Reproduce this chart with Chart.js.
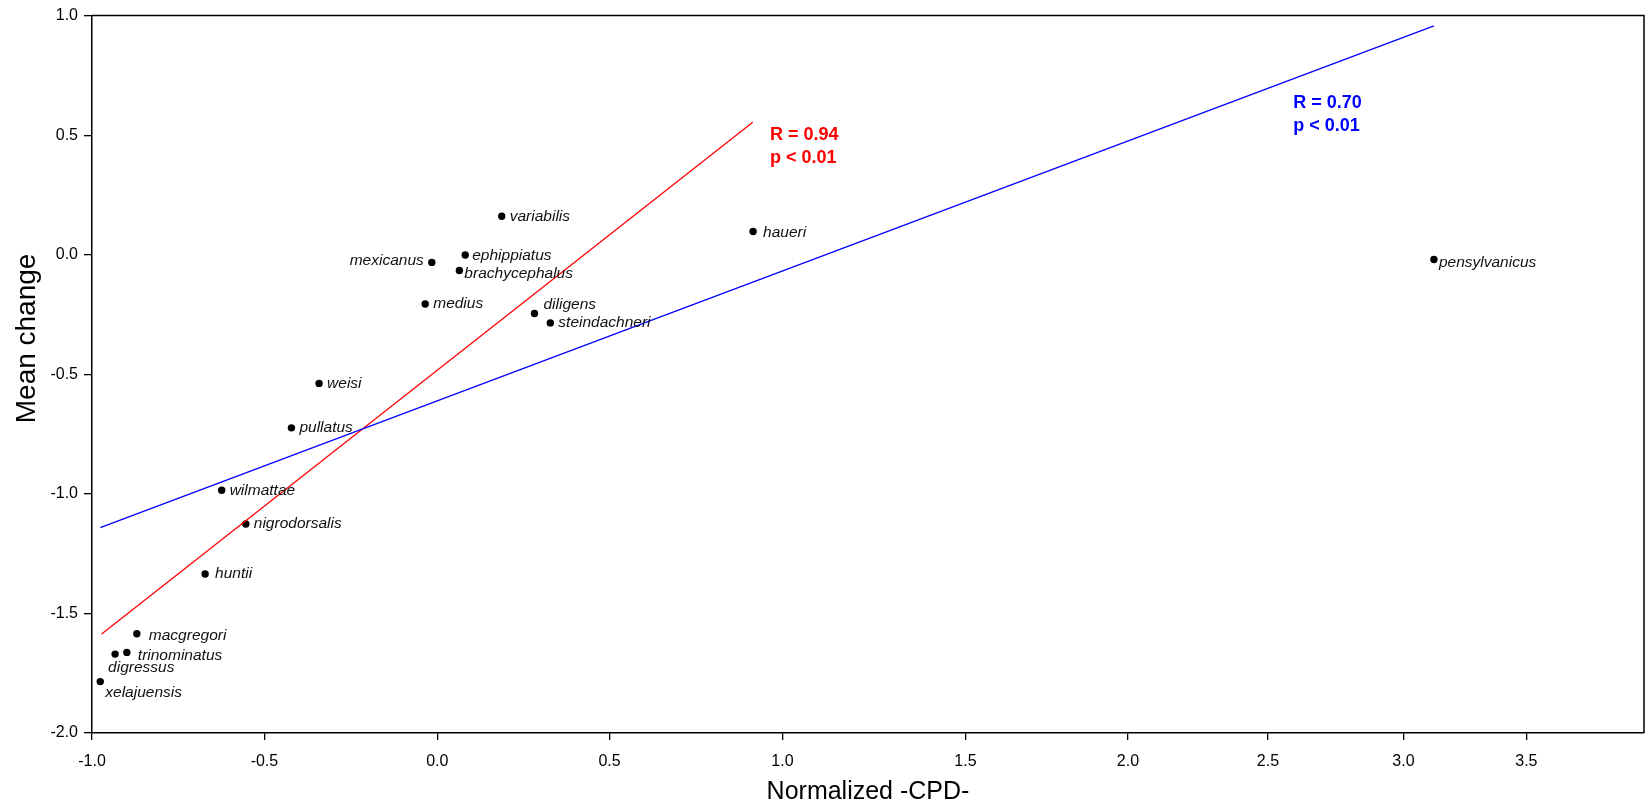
<!DOCTYPE html>
<html>
<head>
<meta charset="utf-8">
<title>Mean change vs Normalized -CPD-</title>
<script src="https://cdn.jsdelivr.net/npm/chart.js@4.4.1/dist/chart.umd.min.js"></script>
<style>
  html, body { margin: 0; padding: 0; background: #fff; }
  #wrap { width: 1648px; height: 811px; }
</style>
</head>
<body>
<div id="wrap"><canvas id="chart1" width="1648" height="811"></canvas></div>
<script>
// values
var species = ["xelajuensis", "digressus", "trinominatus", "macgregori", "huntii",
    "wilmattae", "nigrodorsalis", "pullatus", "weisi", "medius", "mexicanus",
    "brachycephalus", "ephippiatus", "variabilis", "diligens", "steindachneri",
    "haueri", "pensylvanicus"];
var cpd = [-0.976, -0.933, -0.899, -0.870, -0.672,
    -0.624, -0.554, -0.422, -0.342, -0.035, -0.016,
    0.064, 0.081, 0.187, 0.282, 0.328,
    0.915, 3.124];
var meanChange = [-1.785, -1.670, -1.663, -1.585, -1.335,
    -0.985, -1.126, -0.724, -0.538, -0.206, -0.032,
    -0.066, -0.001, 0.161, -0.246, -0.285,
    0.097, -0.020];

var redFitX = [-0.972, 0.914];
var redFitY = [-1.586, 0.554];
var blueFitX = [-0.976, 3.124];
var blueFitY = [-1.141, 0.957];

var fitStats = [["R = 0.94", "p < 0.01"], ["R = 0.70", "p < 0.01"]];

var xTickValues = [-1, -0.5, 0, 0.5, 1, 1.5, 2, 2.5, 3, 3.5, 4];

// the x axis of the figure is not evenly spaced; share of the axis length at each tick
var xTickShare = [0, 0.1111, 0.2225, 0.3335, 0.4449, 0.5628, 0.6675, 0.7577, 0.8450, 0.9242, 1];

function bend(v) {
    var i = 0;
    while (i < xTickValues.length - 2 && v > xTickValues[i + 1]) i++;
    var t = (v - xTickValues[i]) / (xTickValues[i + 1] - xTickValues[i]);
    return xTickShare[i] + t * (xTickShare[i + 1] - xTickShare[i]);
}

function unbend(d) {
    var i = 0;
    while (i < xTickShare.length - 2 && d > xTickShare[i + 1]) i++;
    var t = (d - xTickShare[i]) / (xTickShare[i + 1] - xTickShare[i]);
    return xTickValues[i] + t * (xTickValues[i + 1] - xTickValues[i]);
}

class BentScale extends Chart.LinearScale {
    getPixelForValue(value) {
        if (value === null || value === undefined) return NaN;
        return this.getPixelForDecimal(bend(value));
    }
    getValueForPixel(pixel) {
        return unbend(this.getDecimalForPixel(pixel));
    }
}
BentScale.id = 'bent';
Chart.register(BentScale);

function pairs(xs, ys) {
    return xs.map(function(x, i) { return {x: x, y: ys[i]}; });
}

// where each name sits next to its dot: [dx, dy, align]
var nameNudge = {
    digressus: [-7, 14, 'left'],
    xelajuensis: [5, 11, 'left'],
    trinominatus: [11, 3, 'left'],
    macgregori: [12, 2, 'left'],
    huntii: [10, 0, 'left'],
    mexicanus: [-8, -2, 'right'],
    brachycephalus: [5, 3, 'left'],
    ephippiatus: [7, 1, 'left'],
    diligens: [9, -9, 'left'],
    haueri: [10, 1, 'left'],
    pensylvanicus: [5, 3, 'left']
};

// anchor of the stats text, in data units, and its colour
var statsPlace = [
    {x: 0.964, y: 0.480, color: '#ff0000'},
    {x: 2.593, y: 0.614, color: '#0000ff'}
];

var labelsPlugin = {
    id: 'labels',
    afterDatasetsDraw: function(chart) {
        var ctx = chart.ctx;
        var area = chart.chartArea;
        var meta = chart.getDatasetMeta(2);
        ctx.save();

        // frame on top and right
        ctx.strokeStyle = '#000';
        ctx.lineWidth = 1.5;
        ctx.beginPath();
        ctx.moveTo(area.left, area.top);
        ctx.lineTo(area.right, area.top);
        ctx.lineTo(area.right, area.bottom);
        ctx.stroke();

        ctx.font = 'italic 15.5px "Liberation Sans", Arial, sans-serif';
        ctx.fillStyle = '#111';
        ctx.textBaseline = 'middle';
        meta.data.forEach(function(pt, i) {
            var n = nameNudge[species[i]] || [8, 0, 'left'];
            ctx.textAlign = n[2];
            ctx.fillText(species[i], pt.x + n[0], pt.y + n[1]);
        });

        ctx.font = 'bold 18px "Liberation Sans", Arial, sans-serif';
        ctx.textAlign = 'left';
        ctx.textBaseline = 'alphabetic';
        statsPlace.forEach(function(p, i) {
            var px = chart.scales.x.getPixelForValue(p.x);
            var py = chart.scales.y.getPixelForValue(p.y);
            ctx.fillStyle = p.color;
            ctx.fillText(fitStats[i][0], px, py);
            ctx.fillText(fitStats[i][1], px, py + 23);
        });

        // y axis title, sitting a little above the middle as in the figure
        ctx.font = '28px "Liberation Sans", Arial, sans-serif';
        ctx.fillStyle = '#000';
        ctx.textAlign = 'center';
        ctx.textBaseline = 'middle';
        ctx.translate(27, chart.scales.y.getPixelForValue(-0.35));
        ctx.rotate(-Math.PI / 2);
        ctx.fillText('Mean change', 0, 0);
        ctx.restore();
    }
};

var tickFont = { family: '"Liberation Sans", Arial, sans-serif', size: 16 };

var ctx = document.getElementById("chart1").getContext("2d");
var chart1 = new Chart(ctx, {
    type: 'scatter',
    data: {
        datasets: [{
                label: "fit all",
                data: pairs(blueFitX, blueFitY),
                showLine: true,
                borderColor: "#0000ff",
                borderWidth: 1.3,
                pointRadius: 0
            },
            {
                label: "fit without pensylvanicus",
                data: pairs(redFitX, redFitY),
                showLine: true,
                borderColor: "#ff0000",
                borderWidth: 1.3,
                pointRadius: 0
            },
            {
                label: "species",
                data: pairs(cpd, meanChange),
                backgroundColor: "#000",
                borderWidth: 0,
                pointRadius: 3.7
            }
        ]
    },
    options: {
        responsive: false,
        animation: false,
        events: [],
        layout: { padding: { top: 15, right: 3, left: 0, bottom: 0 } },
        plugins: {
            legend: { display: false },
            tooltip: { enabled: false }
        },
        scales: {
            x: {
                type: 'bent',
                min: -1,
                max: 4,
                afterBuildTicks: function(scale) {
                    scale.ticks = xTickValues.slice(0, -1).map(function(v) { return {value: v}; });
                },
                afterFit: function(scale) { scale.height = 78; },
                ticks: {
                    font: tickFont,
                    color: '#000',
                    padding: 12,
                    autoSkip: false,
                    maxRotation: 0,
                    callback: function(v) { return Number(v).toFixed(1); }
                },
                grid: { drawOnChartArea: false, drawTicks: true, tickLength: 7, color: '#000', lineWidth: 1.3 },
                border: { color: '#000', width: 1.5 },
                title: {
                    display: true,
                    text: 'Normalized -CPD-',
                    color: '#000',
                    font: { family: '"Liberation Sans", Arial, sans-serif', size: 25 },
                    padding: { top: 0, bottom: 4 }
                }
            },
            y: {
                min: -2,
                max: 1,
                afterFit: function(scale) { scale.width = 92; },
                ticks: {
                    stepSize: 0.5,
                    font: tickFont,
                    color: '#000',
                    padding: 6,
                    callback: function(v) { return Number(v).toFixed(1); }
                },
                grid: { drawOnChartArea: false, drawTicks: true, tickLength: 8, color: '#000', lineWidth: 1.3 },
                border: { color: '#000', width: 1.5 }
            }
        }
    },
    plugins: [labelsPlugin]
});
</script>
</body>
</html>
